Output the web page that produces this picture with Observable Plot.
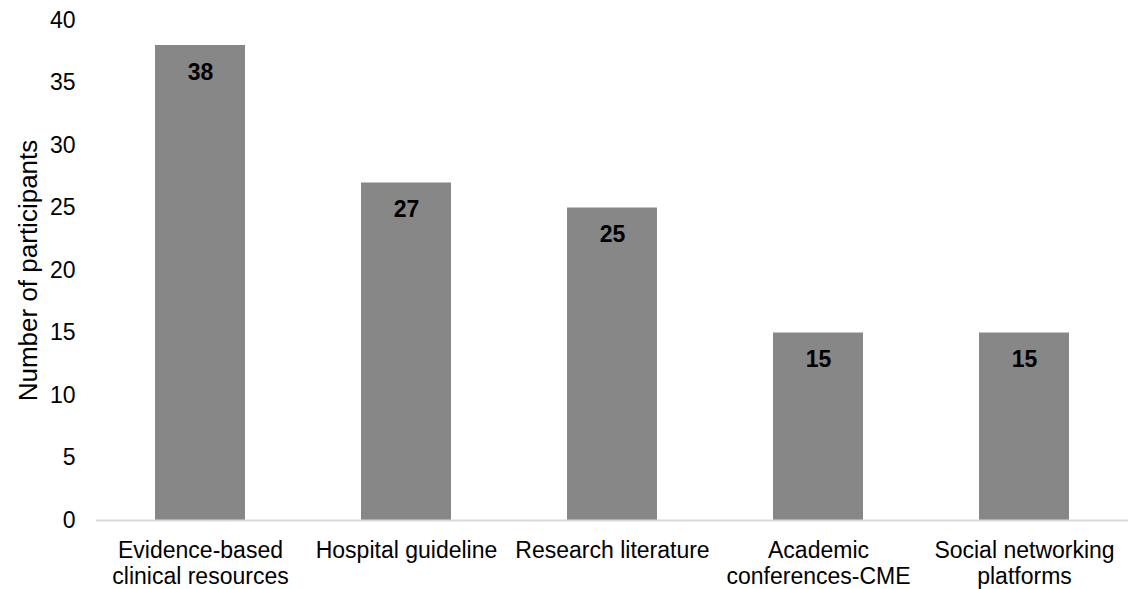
<!DOCTYPE html>
<html>
<head>
<meta charset="utf-8">
<script src="https://cdn.jsdelivr.net/npm/d3@7"></script>
<script src="https://cdn.jsdelivr.net/npm/@observablehq/plot@0.6"></script>
<style>
  html, body { margin: 0; padding: 0; background: #fff; }
  #chart svg { display: block; }
</style>
</head>
<body>
<div id="chart"></div>
<script>
// Information sources used by participants
const categories = [
  "Evidence-based\nclinical resources",
  "Hospital guideline",
  "Research literature",
  "Academic\nconferences-CME",
  "Social networking\nplatforms"
];
const counts = [38, 27, 25, 15, 15];
const yTicks = [0, 5, 10, 15, 20, 25, 30, 35, 40];

const data = categories.map((c, i) => ({category: c, count: counts[i]}));

const font = "'Liberation Sans', Arial, Helvetica, sans-serif";

const chart = Plot.plot({
  width: 1135,
  height: 589,
  marginLeft: 96,
  marginRight: 7,
  marginTop: 20,
  marginBottom: 69,
  style: {fontFamily: font, fontSize: "23px", color: "#000", background: "#fff"},
  x: {domain: categories, paddingInner: 0.564, paddingOuter: 0.282, label: null},
  y: {domain: [0, 40], ticks: yTicks, label: null},
  marks: [
    Plot.barY(data, {x: "category", y: "count", fill: "#878787"}),
    Plot.ruleY([0], {stroke: "#d9d9d9", strokeWidth: 2}),
    // value labels just inside the top of each bar
    Plot.text(data, {
      x: "category", y: "count", text: d => String(d.count),
      dy: 27, fontWeight: "bold", fontSize: 23, fill: "#000"
    }),
    Plot.axisY({
      ticks: yTicks, tickSize: 0, tickPadding: 21, fontSize: 23,
      fill: "#000", label: null
    }),
    Plot.axisX({
      tickSize: 0, tickPadding: 19, fontSize: 23, fill: "#000",
      lineHeight: 1.13, label: null, textAnchor: "middle"
    }),
    // vertical axis title, centred on the plot area
    Plot.text(["Number of participants"], {
      frameAnchor: "left", textAnchor: "middle", rotate: -90, dx: -68,
      fontSize: 26, fill: "#000"
    })
  ]
});

document.getElementById("chart").appendChild(chart);
</script>
</body>
</html>
